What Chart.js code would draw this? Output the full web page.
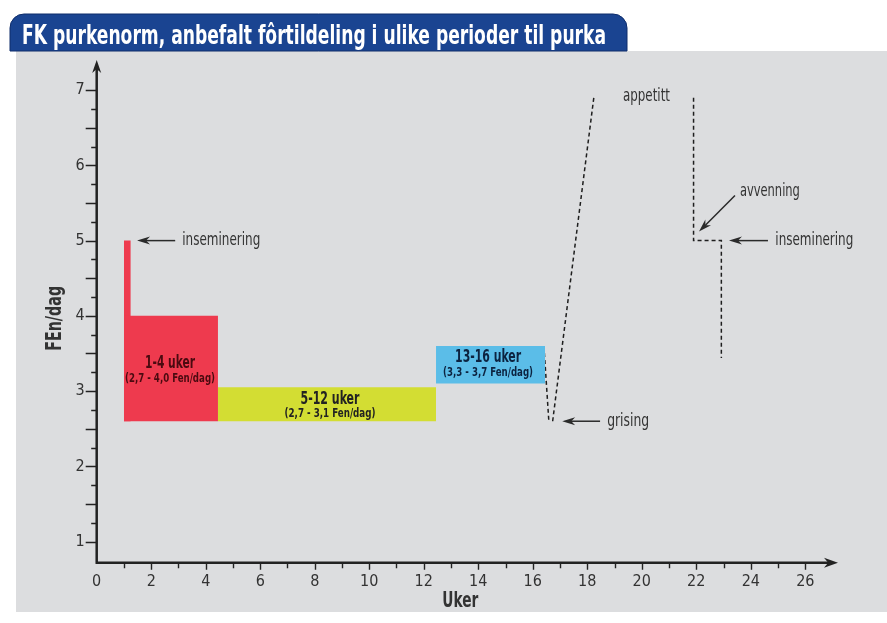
<!DOCTYPE html>
<html lang="no">
<head>
<meta charset="utf-8">
<title>FK purkenorm</title>
<script src="https://cdn.jsdelivr.net/npm/chart.js@4.4.1/dist/chart.umd.min.js"></script>
<style>
  html, body { margin: 0; padding: 0; background: #fff; }
  canvas { display: block; }
</style>
</head>
<body>
<canvas id="graf" width="887" height="623"></canvas>
<script>
const FONT = "'Liberation Sans Narrow', 'Arial Narrow', 'DejaVu Sans Condensed', sans-serif";
const TITTEL = "FK purkenorm, anbefalt fôrtildeling i ulike perioder til purka";

// perioder (uker) og fôrmengde (FEn/dag)
const perioder = ["1-4 uker", "5-12 uker", "13-16 uker"];
const perioderTekst = ["(2,7 - 4,0 Fen/dag)", "(2,7 - 3,1 Fen/dag)", "(3,3 - 3,7 Fen/dag)"];
const perioderFra = [1, 4.45, 12.45];
const perioderTil = [4.45, 12.45, 16.45];
const perioderBunn = [2.6, 2.6, 3.1];
const perioderTopp = [4.0, 3.05, 3.6];
const perioderFarge = ["#ee3a4e", "#d3dd33", "#5bbde8"];
const perioderTekstFarge = ["#4a0a10", "#222222", "#0c2340"];

// topp ved inseminering
const insemFra = 1;
const insemTil = 1.25;
const insemTopp = 5.0;

// stiplede linjer
const grisingX = [16.41, 16.59];
const grisingY = [3.6, 2.6];
const appetittX = [16.73, 18.24];
const appetittY = [2.6, 6.9];
const avvenningX = [21.9, 21.9, 22.92, 22.92];
const avvenningY = [6.9, 5.0, 5.0, 3.44];

// akser
const ukerMin = 0, ukerMaks = 27.2;
const fenMin = 0.72, fenMaks = 7.4;
const ukerEtiketter = [0, 2, 4, 6, 8, 10, 12, 14, 16, 18, 20, 22, 24, 26];
const fenEtiketter = [1, 2, 3, 4, 5, 6, 7];

// tekst i periodene (plassering i aksenes enheter, bredde i px)
const perioderTekstX = [2.69, 8.56, 14.36];
const perioderTekstY1 = [3.37, 2.89, 3.45];
const perioderTekstY2 = [3.17, 2.70, 3.24];
const perioderBredde1 = [50, 59, 66];
const perioderBredde2 = [90, 91, 90];

// merknader med pil: tekst, tekstposisjon, bredde, pil fra -> til
const merknader = [
    { tekst: "inseminering", x: 3.14, y: 5.0, bredde: 78, pil: [2.88, 5.0, 1.48, 5.0] },
    { tekst: "grising", x: 18.73, y: 2.6, bredde: 42, pil: [18.47, 2.6, 17.08, 2.6] },
    { tekst: "appetitt", x: 19.31, y: 6.92, bredde: 47, pil: null },
    { tekst: "avvenning", x: 23.6, y: 5.66, bredde: 60, pil: [23.42, 5.6, 22.1, 5.12] },
    { tekst: "inseminering", x: 24.9, y: 5.0, bredde: 78, pil: [24.63, 5.0, 23.2, 5.0] }
];

function punkter(xs, ys) {
    return xs.map((x, i) => ({ x: x, y: ys[i] }));
}

function rektangel(fra, til, bunn, topp, farge) {
    return {
        data: [{ x: fra, y: topp }, { x: til, y: topp }],
        fill: { value: bunn },
        backgroundColor: farge,
        borderColor: "rgba(0,0,0,0)",
        borderWidth: 0,
        pointRadius: 0
    };
}

function stiplet(xs, ys) {
    return {
        data: punkter(xs, ys),
        fill: false,
        borderColor: "#1e1e1e",
        borderWidth: 1.5,
        borderDash: [4, 3],
        pointRadius: 0
    };
}

function pilspiss(ctx, tx, ty, vinkel, lengde, bredde) {
    ctx.save();
    ctx.translate(tx, ty);
    ctx.rotate(vinkel);
    ctx.beginPath();
    ctx.moveTo(0, 0);
    ctx.lineTo(-lengde, -bredde);
    ctx.lineTo(-lengde * 0.7, 0);
    ctx.lineTo(-lengde, bredde);
    ctx.closePath();
    ctx.fill();
    ctx.restore();
}

// tekst som presses sammen til ønsket bredde (smal skrift finnes ikke)
function smalTekst(ctx, tekst, x, y, bredde, align, vinkel) {
    const w = ctx.measureText(tekst).width;
    const f = Math.min(1, bredde / w);
    ctx.save();
    ctx.translate(x, y);
    if (vinkel) ctx.rotate(vinkel);
    ctx.scale(f, 1);
    ctx.textAlign = align;
    ctx.fillText(tekst, 0, 0);
    ctx.restore();
}

const bakgrunn = {
    id: "bakgrunn",
    beforeDraw(chart) {
        const ctx = chart.ctx;
        ctx.save();
        ctx.fillStyle = "#fff";
        ctx.fillRect(0, 0, chart.width, chart.height);
        ctx.fillStyle = "#dcdddf";
        ctx.fillRect(16, 51, chart.width - 16, 561);

        ctx.beginPath();
        ctx.moveTo(10, 51);
        ctx.lineTo(10, 28);
        ctx.arcTo(10, 14, 24, 14, 14);
        ctx.lineTo(613, 14);
        ctx.arcTo(627, 14, 627, 28, 14);
        ctx.lineTo(627, 51);
        ctx.closePath();
        ctx.fillStyle = "#1a4491";
        ctx.fill();
        ctx.strokeStyle = "#0f2d6b";
        ctx.lineWidth = 1;
        ctx.stroke();

        ctx.font = "bold 27px " + FONT;
        ctx.fillStyle = "#fff";
        ctx.textBaseline = "alphabetic";
        smalTekst(ctx, TITTEL, 22, 44, 584, "left");
        ctx.restore();
    }
};

const akser = {
    id: "akser",
    afterDraw(chart) {
        const ctx = chart.ctx;
        const sx = chart.scales.x;
        const sy = chart.scales.y;
        const ca = chart.chartArea;
        const x0 = sx.getPixelForValue(ukerMin);
        const y0 = sy.getPixelForValue(fenMin);
        ctx.save();
        ctx.strokeStyle = "#222";
        ctx.fillStyle = "#222";

        // akselinjer
        ctx.lineWidth = 2.5;
        ctx.beginPath();
        ctx.moveTo(x0, y0);
        ctx.lineTo(x0, ca.top + 8);
        ctx.moveTo(x0 - 1.2, y0);
        ctx.lineTo(ca.right - 8, y0);
        ctx.stroke();
        pilspiss(ctx, x0, ca.top, -Math.PI / 2, 13, 4.5);
        pilspiss(ctx, ca.right, y0, 0, 14, 5);

        // merker
        ctx.lineWidth = 1.4;
        ctx.beginPath();
        sy.ticks.forEach(t => {
            const v = t.value;
            if (v < 1 - 1e-6 || v > 7 + 1e-6) return;
            const q = Math.round(v * 4);
            if (Math.abs(v * 4 - q) > 1e-6) return;
            const len = q % 2 === 0 ? 11 : 5.5;
            const py = Math.round(sy.getPixelForValue(v)) + 0.5;
            ctx.moveTo(x0 - len, py);
            ctx.lineTo(x0, py);
        });
        sx.ticks.forEach(t => {
            const v = t.value;
            if (v <= 0 || v > 26 + 1e-6 || Math.abs(v - Math.round(v)) > 1e-6) return;
            const len = v % 2 === 0 ? 7 : 5.5;
            const px = Math.round(sx.getPixelForValue(v)) + 0.5;
            ctx.moveTo(px, y0);
            ctx.lineTo(px, y0 + len);
        });
        ctx.stroke();

        // aksetitler
        ctx.fillStyle = "#333";
        ctx.textBaseline = "middle";
        ctx.font = "bold 21px " + FONT;
        smalTekst(ctx, "Uker", (ca.left + ca.right) / 2 - 7, ca.bottom + 39, 36, "center");
        smalTekst(ctx, "FEn/dag", 55.5, (ca.top + ca.bottom) / 2 + 7, 65, "center", -Math.PI / 2);

        // tekst i periodene
        perioder.forEach((p, i) => {
            const px = sx.getPixelForValue(perioderTekstX[i]);
            ctx.fillStyle = perioderTekstFarge[i];
            ctx.font = "bold 17px " + FONT;
            smalTekst(ctx, p, px, sy.getPixelForValue(perioderTekstY1[i]), perioderBredde1[i], "center");
            ctx.font = "bold 13px " + FONT;
            smalTekst(ctx, perioderTekst[i], px, sy.getPixelForValue(perioderTekstY2[i]), perioderBredde2[i], "center");
        });

        // merknader
        ctx.font = "18px " + FONT;
        merknader.forEach(m => {
            ctx.fillStyle = "#333";
            smalTekst(ctx, m.tekst, sx.getPixelForValue(m.x), sy.getPixelForValue(m.y), m.bredde, "left");
            if (m.pil) {
                const ax = sx.getPixelForValue(m.pil[0]);
                const ay = sy.getPixelForValue(m.pil[1]);
                const bx = sx.getPixelForValue(m.pil[2]);
                const by = sy.getPixelForValue(m.pil[3]);
                const vinkel = Math.atan2(by - ay, bx - ax);
                ctx.strokeStyle = "#2a2a2a";
                ctx.fillStyle = "#2a2a2a";
                ctx.lineWidth = 1.5;
                ctx.beginPath();
                ctx.moveTo(ax, ay);
                ctx.lineTo(bx - Math.cos(vinkel) * 8, by - Math.sin(vinkel) * 8);
                ctx.stroke();
                pilspiss(ctx, bx, by, vinkel, 13, 4);
            }
        });
        ctx.restore();
    }
};

Chart.defaults.font.family = FONT;

const datasett = perioder.map((p, i) =>
    rektangel(perioderFra[i], perioderTil[i], perioderBunn[i], perioderTopp[i], perioderFarge[i]));
datasett.push(rektangel(insemFra, insemTil, perioderBunn[0], insemTopp, perioderFarge[0]));
datasett.push(stiplet(grisingX, grisingY));
datasett.push(stiplet(appetittX, appetittY));
datasett.push(stiplet(avvenningX, avvenningY));

new Chart(document.getElementById("graf"), {
    type: "line",
    data: { datasets: datasett },
    options: {
        responsive: false,
        animation: false,
        events: [],
        layout: { padding: { top: 60, right: 49, left: 0, bottom: 0 } },
        plugins: {
            legend: { display: false },
            tooltip: { enabled: false }
        },
        scales: {
            x: {
                type: "linear",
                min: ukerMin,
                max: ukerMaks,
                grid: { display: false, drawTicks: false },
                border: { display: false },
                ticks: {
                    stepSize: 1,
                    autoSkip: false,
                    maxTicksLimit: 100,
                    maxRotation: 0,
                    padding: 10,
                    color: "#333",
                    font: { size: 16 },
                    callback: v => ukerEtiketter.includes(v) ? String(v) : ""
                },
                afterFit: s => { s.height = 60.3; }
            },
            y: {
                type: "linear",
                min: fenMin,
                max: fenMaks,
                grid: { display: false, drawTicks: false },
                border: { display: false },
                ticks: {
                    stepSize: 0.25,
                    autoSkip: false,
                    maxTicksLimit: 100,
                    padding: 12,
                    color: "#333",
                    font: { size: 16 },
                    callback: v => fenEtiketter.includes(v) ? String(v) : ""
                },
                afterFit: s => { s.width = 96.7; }
            }
        }
    },
    plugins: [bakgrunn, akser]
});
</script>
</body>
</html>
